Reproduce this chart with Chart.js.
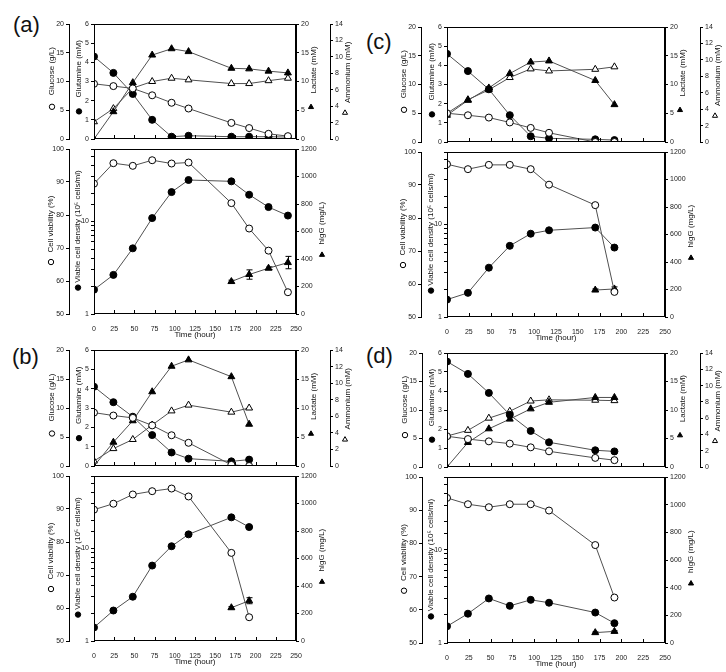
<!DOCTYPE html>
<html lang="en">
<head>
<meta charset="UTF-8">
<title>Culture profiles (a)-(d)</title>
<script src="https://cdn.jsdelivr.net/npm/chart.js@4.4.1/dist/chart.umd.min.js"></script>
<style>
  body { margin: 0; background: #fff; }
  #wrap { position: relative; width: 726px; height: 672px; overflow: hidden;
          font-family: "Liberation Sans", Arial, sans-serif; }
  #wrap canvas { position: absolute; }
  .tag { position: absolute; font-size: 22px; line-height: 1; color: #111; }
</style>
</head>
<body>
<div id="wrap">
  <div class="tag" style="left:13px;top:14px">(a)</div>
  <div class="tag" style="left:366px;top:31px">(c)</div>
  <div class="tag" style="left:12px;top:346px">(b)</div>
  <div class="tag" style="left:366px;top:345px">(d)</div>
</div>

<script>
const FONT = '"Liberation Sans", Arial, sans-serif';
Chart.defaults.font.family = FONT;

// ---- sampling times (hour) ----
const hoursA = [0, 24, 48, 72, 96, 117, 170, 192, 216, 240];
const hoursShort = [0, 24, 48, 72, 96, 117, 170, 192];
const iggHoursA = [170, 192, 216, 240];
const iggHoursShort = [170, 192];

// ---- (a) ----
const glucoseA   = [9.6, 9.2, 8.8, 7.6, 6.3, 5.3, 2.8, 1.9, 0.9, 0.5];
const glutamineA = [4.3, 3.45, 2.35, 1.0, 0.12, 0.17, 0.12, 0.12, 0.12, 0.1];
const lactateA   = [0, 4.75, 9.8, 14.6, 15.7, 15.2, 12.3, 12.2, 11.8, 11.5];
const ammoniumA  = [2.1, 3.7, 6.2, 7.0, 7.4, 7.2, 6.75, 6.75, 7.1, 7.4];
const viabilityA = [89.5, 95.7, 94.9, 96.6, 95.6, 95.9, 83.6, 75.9, 69.2, 56.6];
const vcdA       = [1.83, 2.64, 5.1, 10.8, 20.6, 27.8, 26.9, 19.3, 14.2, 11.5];
const iggA       = [236, 287, 333, 374];
const iggErrA    = [10, 34, 10, 45];

// ---- (b) ----
const glucoseB   = [9.2, 8.7, 8.3, 7.0, 5.3, 4.0, 0.2, 0];
const glutamineB = [4.1, 3.3, 2.55, 1.6, 0.7, 0.38, 0.24, 0.33];
const lactateB   = [0, 4.1, 7.8, 12.8, 17.2, 18.3, 15.4, 7.2];
const ammoniumB  = [0.6, 2.1, 3.2, 4.95, 6.65, 7.35, 6.5, 7.0];
const viabilityB = [89.8, 91.6, 94.4, 95.4, 96.2, 93.8, 76.7, 57.2];
const vcdB       = [1.4, 2.13, 3.0, 6.5, 10.5, 14.1, 21.5, 16.9];
const iggB       = [242, 293];
const iggErrB    = [8, 22];

// ---- (c) ----
const glucoseC   = [5.0, 4.65, 4.25, 3.4, 2.45, 1.6, 0, 0];
const glutamineC = [4.6, 3.7, 2.75, 1.4, 0.3, 0.19, 0.14, 0.1];
const lactateC   = [4.65, 7.25, 9.4, 11.9, 13.9, 14.1, 10.7, 6.5];
const ammoniumC  = [3.5, 5.15, 6.35, 7.85, 8.9, 8.65, 8.85, 9.15];
const viabilityC = [96.3, 94.8, 96.1, 96.1, 94.8, 90.1, 83.9, 57.6];
const vcdC       = [1.54, 1.82, 3.4, 5.85, 7.9, 8.6, 9.2, 5.6];
const iggC       = [196, 204];
const iggErrC    = [8, 15];

// ---- (d) ----
const glucoseD   = [5.4, 4.9, 4.5, 4.1, 3.45, 2.75, 1.6, 1.2];
const glutamineD = [5.55, 4.9, 3.9, 2.75, 1.9, 1.3, 0.88, 0.82];
const lactateD   = [0, 4.3, 6.7, 8.4, 10.2, 11.35, 12.2, 12.2];
const ammoniumD  = [3.8, 4.5, 6.0, 6.85, 8.1, 8.25, 8.2, 8.15];
const viabilityD = [93.7, 91.8, 90.9, 91.8, 91.8, 89.9, 79.5, 63.7];
const vcdD       = [1.51, 2.06, 3.0, 2.5, 2.9, 2.7, 2.12, 1.63];
const iggD       = [75, 84];
const iggErrD    = [5, 5];

const wrap = document.getElementById('wrap');

function marker(ctx, style, fill, x, y, r) {
  ctx.beginPath();
  if (style === 'circle') {
    ctx.arc(x, y, r, 0, Math.PI * 2);
  } else {
    ctx.moveTo(x, y - r);
    ctx.lineTo(x + r * 0.95, y + r * 0.65);
    ctx.lineTo(x - r * 0.95, y + r * 0.65);
    ctx.closePath();
  }
  ctx.fillStyle = fill;
  ctx.fill();
  ctx.strokeStyle = '#000';
  ctx.lineWidth = 1;
  ctx.stroke();
}

// frame, inward x ticks, rotated axis titles with their symbols, error bars
const decor = {
  id: 'decor',
  beforeDatasetsDraw(chart) {
    const ctx = chart.ctx;
    ctx.save();
    ctx.strokeStyle = '#000';
    ctx.lineWidth = 1;
    chart.data.datasets.forEach((ds, i) => {
      if (!ds.errs) return;
      const ys = chart.scales[ds.yAxisID];
      chart.getDatasetMeta(i).data.forEach((pt, j) => {
        const v = ds.data[j].y, e = ds.errs[j];
        const x = Math.round(pt.x) + 0.5;
        const y1 = ys.getPixelForValue(v + e), y2 = ys.getPixelForValue(v - e);
        ctx.beginPath();
        ctx.moveTo(x, y1); ctx.lineTo(x, y2);
        ctx.moveTo(x - 3, y1); ctx.lineTo(x + 3, y1);
        ctx.moveTo(x - 3, y2); ctx.lineTo(x + 3, y2);
        ctx.stroke();
      });
    });
    ctx.restore();
  },
  afterDraw(chart, args, opts) {
    const ctx = chart.ctx;
    const a = chart.chartArea;
    ctx.save();
    ctx.strokeStyle = '#000';
    ctx.lineWidth = 1;
    const l = Math.round(a.left) + 0.5, t = Math.round(a.top) + 0.5;
    const r = Math.round(a.right) - 0.5, b = Math.round(a.bottom) - 0.5;
    ctx.strokeRect(l, t, r - l, b - t);
    const xs = chart.scales.x;
    xs.ticks.forEach((tk, i) => {
      const px = Math.round(xs.getPixelForTick(i)) + 0.5;
      ctx.beginPath();
      ctx.moveTo(px, b); ctx.lineTo(px, b - 3.5);
      ctx.stroke();
    });
    const h = a.bottom - a.top;
    (opts.titles || []).forEach(tt => {
      const s = chart.scales[tt.axis];
      const line = s.position === 'left' ? s.right : s.left;
      ctx.save();
      ctx.translate(line + tt.dx, a.top + tt.ty * h);
      ctx.rotate(-Math.PI / 2);
      ctx.font = '8px ' + FONT;
      ctx.fillStyle = '#111';
      ctx.textAlign = 'center';
      ctx.textBaseline = 'middle';
      ctx.fillText(tt.text, 0, 0);
      ctx.restore();
      marker(ctx, tt.sym, tt.fill, line + tt.sdx, a.top + tt.sy * h, 2.7);
    });
    ctx.restore();
  }
};

function series(label, xs, ys, axis, style, fill, errs) {
  const ds = {
    label: label,
    data: xs.map((x, i) => ({ x: x, y: ys[i] })),
    yAxisID: axis,
    borderColor: '#505050',
    borderWidth: 1,
    pointStyle: style,
    pointRadius: style === 'triangle' ? 4 : 3.5,
    pointBackgroundColor: fill,
    pointBorderColor: '#000',
    pointBorderWidth: 1,
    tension: 0,
    fill: false
  };
  if (errs) ds.errs = errs;
  return ds;
}

function yAxis(pos, weight, width, min, max, step) {
  return {
    type: 'linear', position: pos, weight: weight, min: min, max: max,
    ticks: { stepSize: step, autoSkip: false, font: { size: 7 }, color: '#222', padding: 2,
             callback: v => String(v) },
    grid: { drawOnChartArea: false, tickLength: 3, color: '#000' },
    border: { color: '#000' },
    afterFit: s => { s.width = width; }
  };
}

function makeCanvas(left, top, w, h) {
  const cv = document.createElement('canvas');
  cv.width = w; cv.height = h;
  cv.style.left = left + 'px';
  cv.style.top = top + 'px';
  wrap.appendChild(cv);
  return cv;
}

function baseOptions(scales, titles, padBottom) {
  return {
    responsive: false, animation: false, events: [],
    layout: { padding: { top: 8, bottom: padBottom, left: 0, right: 0 } },
    plugins: { legend: { display: false }, tooltip: { enabled: false }, decor: { titles: titles } },
    scales: scales
  };
}

// upper panel: glucose, glutamine, lactate, ammonium
function topChart(g, hours, glc, gln, lac, amm) {
  const left = g.L2 - 34, right = g.R2 + 36;
  const cv = makeCanvas(left, g.T - 8, right - left, g.B - g.T + 16);
  const scales = {
    x: { type: 'linear', min: 0, max: 250,
         ticks: { stepSize: 25, display: false },
         grid: { display: false }, border: { display: false },
         afterFit: s => { s.height = 0; } },
    gluc: yAxis('left', 1, 34, 0, 20, 5),
    glut: yAxis('left', 0, g.L1 - g.L2, 0, 6, 1),
    lac: yAxis('right', 0, g.R2 - g.R1, 0, 20, 5),
    amm: yAxis('right', 1, 36, 0, 14, 2)
  };
  const titles = [
    { axis: 'gluc', text: 'Glucose (g/L)', dx: -17, ty: 0.41, sym: 'circle', fill: '#fff', sdx: -17, sy: 0.72 },
    { axis: 'glut', text: 'Glutamine (mM)', dx: -15, ty: 0.39, sym: 'circle', fill: '#000', sdx: -15, sy: 0.76 },
    { axis: 'lac', text: 'Lactate (mM)', dx: 18, ty: 0.40, sym: 'triangle', fill: '#000', sdx: 15, sy: 0.72 },
    { axis: 'amm', text: 'Ammonium (mM)', dx: 18, ty: 0.42, sym: 'triangle', fill: '#fff', sdx: 15, sy: 0.77 }
  ];
  new Chart(cv, {
    type: 'line',
    data: { datasets: [
      series('Glucose', hours, glc, 'gluc', 'circle', '#fff'),
      series('Glutamine', hours, gln, 'glut', 'circle', '#000'),
      series('Lactate', hours, lac, 'lac', 'triangle', '#000'),
      series('Ammonium', hours, amm, 'amm', 'triangle', '#fff')
    ] },
    options: baseOptions(scales, titles, 8),
    plugins: [decor]
  });
}

// lower panel: viability, viable cell density (log), hIgG
function bottomChart(g, hours, via, vcd, iggHours, igg, iggErr) {
  const left = g.L2 - 34, right = g.R1 + 42;
  const cv = makeCanvas(left, g.T - 8, right - left, g.B - g.T + 8 + 26);
  const vcdAxis = yAxis('left', 0, g.L1 - g.L2, 1, 60, 1);
  vcdAxis.type = 'logarithmic';
  vcdAxis.ticks = { autoSkip: false, font: { size: 7 }, color: '#222', padding: 2,
                    callback: v => (v === 1 || v === 10) ? String(v) : '' };
  const scales = {
    x: { type: 'linear', min: 0, max: 250,
         ticks: { stepSize: 25, maxRotation: 0, autoSkip: false, font: { size: 7 }, color: '#222', padding: 3 },
         grid: { display: false }, border: { display: false },
         title: { display: true, text: 'Time (hour)', font: { size: 8 }, color: '#111', padding: 0 },
         afterFit: s => { s.height = 26; } },
    via: yAxis('left', 1, 34, 50, 100, 10),
    vcd: vcdAxis,
    igg: yAxis('right', 0, 42, 0, 1200, 200)
  };
  const titles = [
    { axis: 'via', text: 'Cell viability (%)', dx: -18, ty: 0.455, sym: 'circle', fill: '#fff', sdx: -18, sy: 0.685 },
    { axis: 'vcd', text: 'Viable cell density (10\u2075 cells/ml)', dx: -16, ty: 0.47, sym: 'circle', fill: '#000', sdx: -16, sy: 0.84 },
    { axis: 'igg', text: 'hIgG (mg/L)', dx: 26, ty: 0.45, sym: 'triangle', fill: '#000', sdx: 26, sy: 0.64 }
  ];
  new Chart(cv, {
    type: 'line',
    data: { datasets: [
      series('Cell viability', hours, via, 'via', 'circle', '#fff'),
      series('Viable cell density', hours, vcd, 'vcd', 'circle', '#000'),
      series('hIgG', iggHours, igg, 'igg', 'triangle', '#000', iggErr)
    ] },
    options: baseOptions(scales, titles, 0),
    plugins: [decor]
  });
}

topChart({ L2: 69, L1: 94, R1: 296, R2: 330, T: 24, B: 139 }, hoursA, glucoseA, glutamineA, lactateA, ammoniumA);
bottomChart({ L2: 69, L1: 94, R1: 296, T: 149, B: 314 }, hoursA, viabilityA, vcdA, iggHoursA, iggA, iggErrA);

topChart({ L2: 421, L1: 447, R1: 665, R2: 700, T: 27, B: 142 }, hoursShort, glucoseC, glutamineC, lactateC, ammoniumC);
bottomChart({ L2: 421, L1: 447, R1: 665, T: 152, B: 317 }, hoursShort, viabilityC, vcdC, iggHoursShort, iggC, iggErrC);

topChart({ L2: 69, L1: 94, R1: 296, R2: 330, T: 350, B: 466 }, hoursShort, glucoseB, glutamineB, lactateB, ammoniumB);
bottomChart({ L2: 69, L1: 94, R1: 296, T: 476, B: 641 }, hoursShort, viabilityB, vcdB, iggHoursShort, iggB, iggErrB);

topChart({ L2: 422, L1: 447, R1: 665, R2: 700, T: 353, B: 467 }, hoursShort, glucoseD, glutamineD, lactateD, ammoniumD);
bottomChart({ L2: 422, L1: 447, R1: 665, T: 477, B: 643 }, hoursShort, viabilityD, vcdD, iggHoursShort, iggD, iggErrD);
</script>
</body>
</html>
